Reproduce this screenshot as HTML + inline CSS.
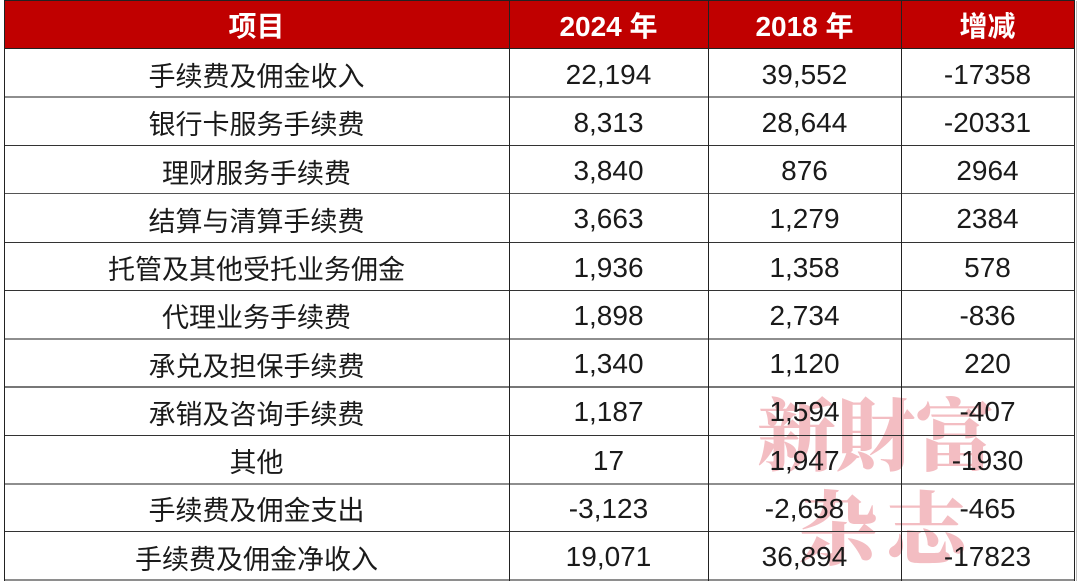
<!DOCTYPE html>
<html>
<head>
<meta charset="utf-8">
<style>
html,body{margin:0;padding:0;background:#fff;}
body{width:1080px;height:583px;position:relative;overflow:hidden;font-family:"Liberation Sans","Noto Sans CJK SC",sans-serif;}
.hdr{position:absolute;left:4px;top:1px;width:1070px;height:48px;background:#c00000;}
.wm{position:absolute;font-family:"Noto Serif CJK SC","Noto Serif CJK SC",serif;font-weight:900;color:#f3bdc2;white-space:nowrap;line-height:1;}
.c{position:absolute;display:flex;align-items:center;justify-content:center;white-space:nowrap;color:#1a1a1a;}
.h{color:#fff;font-weight:bold;font-size:28px;}
.t{font-size:27px;padding-top:3px;box-sizing:border-box;}
.n{font-size:28px;padding-top:3px;box-sizing:border-box;}
.hl{position:absolute;left:4px;width:1071px;}
.vl{position:absolute;top:1px;width:1px;height:580px;background:#222;}
</style>
</head>
<body>
<div class="hdr"></div>
<div class="wm" style="left:757px;top:391px;font-size:79px;">新財富</div>
<div class="wm" style="left:798px;top:484px;font-size:80px;letter-spacing:8px;">杂志</div>

<!-- header text -->
<div class="c h" style="left:4px;top:1px;width:505px;height:48px;">项目</div>
<div class="c h" style="left:509px;top:1px;width:199px;height:48px;">2024 年</div>
<div class="c h" style="left:708px;top:1px;width:193px;height:48px;">2018 年</div>
<div class="c h" style="left:901px;top:1px;width:173px;height:48px;">增减</div>

<!-- rows -->
<div class="c t" style="left:4px;top:49px;width:505px;height:48px;">手续费及佣金收入</div>
<div class="c n" style="left:509px;top:49px;width:199px;height:48px;">22,194</div>
<div class="c n" style="left:708px;top:49px;width:193px;height:48px;">39,552</div>
<div class="c n" style="left:901px;top:49px;width:173px;height:48px;">-17358</div>

<div class="c t" style="left:4px;top:97.3px;width:505px;height:48px;">银行卡服务手续费</div>
<div class="c n" style="left:509px;top:97.3px;width:199px;height:48px;">8,313</div>
<div class="c n" style="left:708px;top:97.3px;width:193px;height:48px;">28,644</div>
<div class="c n" style="left:901px;top:97.3px;width:173px;height:48px;">-20331</div>

<div class="c t" style="left:4px;top:145.5px;width:505px;height:48px;">理财服务手续费</div>
<div class="c n" style="left:509px;top:145.5px;width:199px;height:48px;">3,840</div>
<div class="c n" style="left:708px;top:145.5px;width:193px;height:48px;">876</div>
<div class="c n" style="left:901px;top:145.5px;width:173px;height:48px;">2964</div>

<div class="c t" style="left:4px;top:193.8px;width:505px;height:48px;">结算与清算手续费</div>
<div class="c n" style="left:509px;top:193.8px;width:199px;height:48px;">3,663</div>
<div class="c n" style="left:708px;top:193.8px;width:193px;height:48px;">1,279</div>
<div class="c n" style="left:901px;top:193.8px;width:173px;height:48px;">2384</div>

<div class="c t" style="left:4px;top:242.1px;width:505px;height:48px;">托管及其他受托业务佣金</div>
<div class="c n" style="left:509px;top:242.1px;width:199px;height:48px;">1,936</div>
<div class="c n" style="left:708px;top:242.1px;width:193px;height:48px;">1,358</div>
<div class="c n" style="left:901px;top:242.1px;width:173px;height:48px;">578</div>

<div class="c t" style="left:4px;top:290.4px;width:505px;height:48px;">代理业务手续费</div>
<div class="c n" style="left:509px;top:290.4px;width:199px;height:48px;">1,898</div>
<div class="c n" style="left:708px;top:290.4px;width:193px;height:48px;">2,734</div>
<div class="c n" style="left:901px;top:290.4px;width:173px;height:48px;">-836</div>

<div class="c t" style="left:4px;top:338.6px;width:505px;height:48px;">承兑及担保手续费</div>
<div class="c n" style="left:509px;top:338.6px;width:199px;height:48px;">1,340</div>
<div class="c n" style="left:708px;top:338.6px;width:193px;height:48px;">1,120</div>
<div class="c n" style="left:901px;top:338.6px;width:173px;height:48px;">220</div>

<div class="c t" style="left:4px;top:386.9px;width:505px;height:48px;">承销及咨询手续费</div>
<div class="c n" style="left:509px;top:386.9px;width:199px;height:48px;">1,187</div>
<div class="c n" style="left:708px;top:386.9px;width:193px;height:48px;">1,594</div>
<div class="c n" style="left:901px;top:386.9px;width:173px;height:48px;">-407</div>

<div class="c t" style="left:4px;top:435.2px;width:505px;height:48px;">其他</div>
<div class="c n" style="left:509px;top:435.2px;width:199px;height:48px;">17</div>
<div class="c n" style="left:708px;top:435.2px;width:193px;height:48px;">1,947</div>
<div class="c n" style="left:901px;top:435.2px;width:173px;height:48px;">-1930</div>

<div class="c t" style="left:4px;top:483.4px;width:505px;height:48px;">手续费及佣金支出</div>
<div class="c n" style="left:509px;top:483.4px;width:199px;height:48px;">-3,123</div>
<div class="c n" style="left:708px;top:483.4px;width:193px;height:48px;">-2,658</div>
<div class="c n" style="left:901px;top:483.4px;width:173px;height:48px;">-465</div>

<div class="c t" style="left:4px;top:531.7px;width:505px;height:48px;">手续费及佣金净收入</div>
<div class="c n" style="left:509px;top:531.7px;width:199px;height:48px;">19,071</div>
<div class="c n" style="left:708px;top:531.7px;width:193px;height:48px;">36,894</div>
<div class="c n" style="left:901px;top:531.7px;width:173px;height:48px;">-17823</div>

<!-- horizontal lines -->
<div class="hl" style="top:0px;height:1px;background:#222;"></div>
<div class="hl" style="top:48px;height:1px;background:#222;"></div>
<div class="hl" style="top:96px;height:2px;background:#8e8e8e;"></div>
<div class="hl" style="top:145px;height:1px;background:#333;"></div>
<div class="hl" style="top:193px;height:1px;background:#555;"></div>
<div class="hl" style="top:242px;height:1px;background:#333;"></div>
<div class="hl" style="top:290px;height:1px;background:#333;"></div>
<div class="hl" style="top:338px;height:2px;background:#8e8e8e;"></div>
<div class="hl" style="top:386px;height:2px;background:#777;"></div>
<div class="hl" style="top:435px;height:1px;background:#333;"></div>
<div class="hl" style="top:483px;height:2px;background:#8e8e8e;"></div>
<div class="hl" style="top:531px;height:1px;background:#333;"></div>
<div class="hl" style="top:579px;height:2px;background:#8e8e8e;"></div>

<!-- vertical lines -->
<div class="vl" style="left:4px;"></div>
<div class="vl" style="left:509px;"></div>
<div class="vl" style="left:708px;"></div>
<div class="vl" style="left:901px;"></div>
<div class="vl" style="left:1074px;"></div>
<div class="vl" style="left:1076px;background:#bbb;"></div>
</body>
</html>
